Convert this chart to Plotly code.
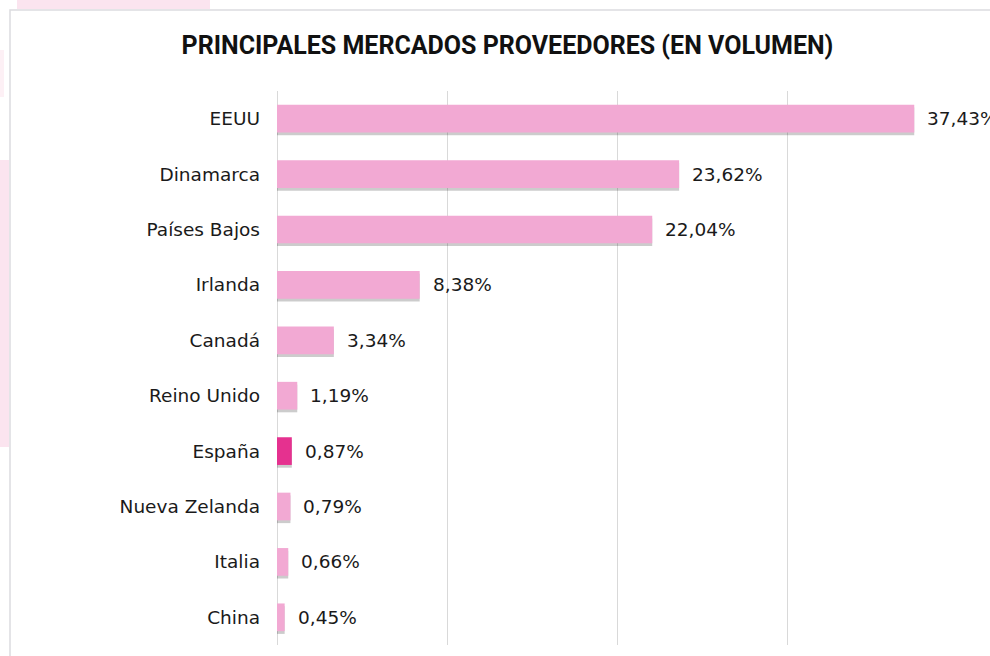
import plotly.graph_objects as go

# ----------------------------------------------------------------------------------------------------------------------
# datos
paises = ['EEUU', 'Dinamarca', 'Países Bajos', 'Irlanda', 'Canadá',
          'Reino Unido', 'España', 'Nueva Zelanda', 'Italia', 'China']
porcentajes = [37.43, 23.62, 22.04, 8.38, 3.34, 1.19, 0.87, 0.79, 0.66, 0.45]
destacado = 'España'
titulo = 'PRINCIPALES MERCADOS PROVEEDORES (EN VOLUMEN)'

ROSA = '#f2a9d3'
ROSA_FUERTE = '#e5318f'
FUENTE = 'DejaVu Sans'
FUENTE_TITULO = 'Roboto'

W, H = 990, 656
L, R, T, B = 277, 32, 91, 11


def px_x(p):
    """ pixel horizontal -> coordenada paper """
    return (p - L) / (W - L - R)


def px_y(p):
    """ pixel vertical -> coordenada paper """
    return (H - B - p) / (H - T - B)


def etiqueta(v):
    return f"{v:.2f}".replace('.', ',') + '%'


colores = [ROSA_FUERTE if p == destacado else ROSA for p in paises]

fig = go.Figure()

# sombra de las barras
fig.add_trace(go.Bar(x=porcentajes, y=paises, orientation='h', width=0.5, offset=-0.2,
                     marker=dict(color='rgba(0,0,0,0.2)', line=dict(width=0)),
                     hoverinfo='skip', showlegend=False))
# barras
fig.add_trace(go.Bar(x=porcentajes, y=paises, orientation='h', width=0.5, offset=-0.25,
                     marker=dict(color=colores, line=dict(width=0)), showlegend=False))

# etiquetas de datos
for p, v in zip(paises, porcentajes):
    fig.add_annotation(x=v, y=p, text=etiqueta(v), showarrow=False, xanchor='left',
                       xshift=11, font=dict(family=FUENTE, size=18.5, color='#1a1a1a'))

# marco y adornos de fondo
shapes = [
    dict(type='rect', xref='paper', yref='paper', x0=px_x(17), x1=px_x(210), y0=px_y(0), y1=px_y(9),
         fillcolor='#fbe4ef', line=dict(width=0), layer='below'),
    dict(type='rect', xref='paper', yref='paper', x0=px_x(0), x1=px_x(9), y0=px_y(160), y1=px_y(447),
         fillcolor='#fbe4ef', line=dict(width=0), layer='below'),
    dict(type='rect', xref='paper', yref='paper', x0=px_x(0), x1=px_x(4), y0=px_y(50), y1=px_y(97),
         fillcolor='#fdf0f5', line=dict(width=0), layer='below'),
    dict(type='rect', xref='paper', yref='paper', x0=px_x(10), x1=px_x(1010), y0=px_y(10), y1=px_y(680),
         fillcolor='rgba(0,0,0,0)', line=dict(color='#dcdcdf', width=1.5), layer='below'),
]

fig.update_layout(
    width=W, height=H,
    margin=dict(l=L, r=R, t=T, b=B),
    paper_bgcolor='white', plot_bgcolor='rgba(0,0,0,0)',
    barmode='overlay',
    title=dict(text=f'<b>{titulo}</b>', x=507.5 / W, xanchor='center', y=1 - 45 / H, yanchor='middle',
               font=dict(family=FUENTE_TITULO, size=25, color='#111111')),
    shapes=shapes,
)

fig.update_xaxes(range=[0, 40], dtick=10, showticklabels=False, showgrid=True, gridcolor='#d9d9d9',
                 gridwidth=1, zeroline=True, zerolinecolor='#d9d9d9', zerolinewidth=1, fixedrange=True)
fig.update_yaxes(autorange='reversed', showgrid=False, ticklabelstandoff=16,
                 tickfont=dict(family=FUENTE, size=18.5, color='#1a1a1a'), fixedrange=True)
fig.update_traces(cliponaxis=False)

fig.write_html("out.html", config={'displayModeBar': False},
               post_script="document.body.style.margin='0';")
